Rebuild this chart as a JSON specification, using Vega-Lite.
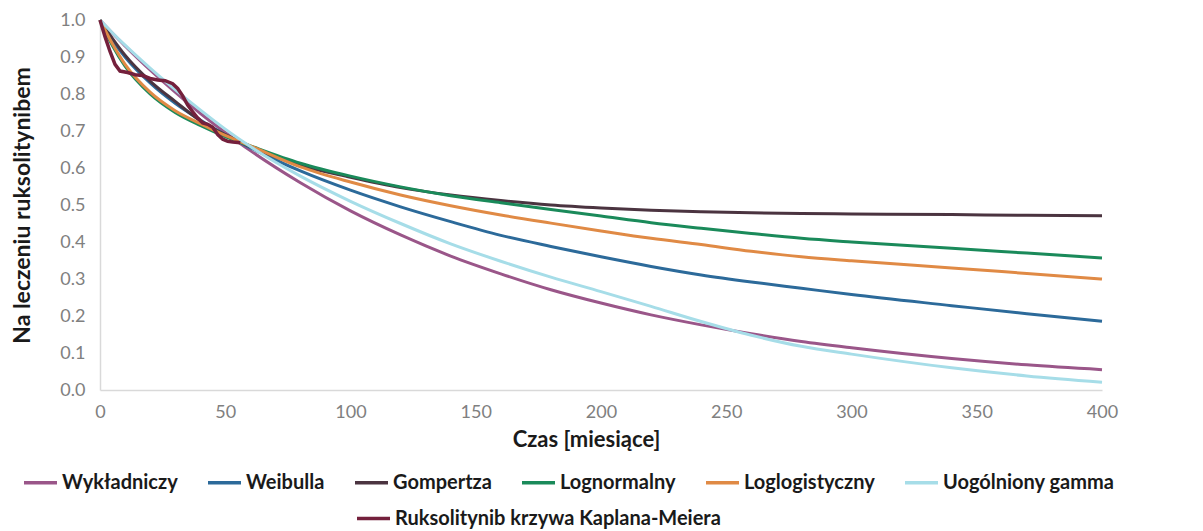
{
  "$schema": "https://vega.github.io/schema/vega-lite/v6.json",
  "width": 1002,
  "height": 370,
  "autosize": {"type": "none"},
  "padding": {"left": 100, "top": 20, "right": 101, "bottom": 141},
  "background": "white",
  "config": {
    "view": {"stroke": null},
    "font": "Lato",
    "axis": {
      "grid": false,
      "ticks": false,
      "labelFlush": false,
      "labelOverlap": false,
      "domainColor": "#d9d9d9",
      "domainWidth": 1.5,
      "labelColor": "#808080",
      "labelFontSize": 18,
      "labelFont": "Lato",
      "titleFont": "Lato",
      "titleFontSize": 22,
      "titleFontWeight": "bold",
      "titleColor": "#1a1a1a"
    },
    "legend": {
      "labelFont": "Lato",
      "labelFontSize": 20,
      "labelFontWeight": "bold",
      "labelColor": "#1a1a1a",
      "symbolType": "stroke",
      "symbolSize": 1089,
      "symbolStrokeWidth": 3.5,
      "labelOffset": 3,
      "columnPadding": 23,
      "labelLimit": 600
    }
  },
  "datasets": {
    "models": [
      {"model": "Wykładniczy", "t": 0, "s": 1.0},
      {"model": "Wykładniczy", "t": 5, "s": 0.964},
      {"model": "Wykładniczy", "t": 10, "s": 0.930},
      {"model": "Wykładniczy", "t": 20, "s": 0.865},
      {"model": "Wykładniczy", "t": 30, "s": 0.805},
      {"model": "Wykładniczy", "t": 40, "s": 0.748},
      {"model": "Wykładniczy", "t": 50, "s": 0.696},
      {"model": "Wykładniczy", "t": 60, "s": 0.647},
      {"model": "Wykładniczy", "t": 80, "s": 0.560},
      {"model": "Wykładniczy", "t": 100, "s": 0.484},
      {"model": "Wykładniczy", "t": 120, "s": 0.419},
      {"model": "Wykładniczy", "t": 140, "s": 0.362},
      {"model": "Wykładniczy", "t": 160, "s": 0.314},
      {"model": "Wykładniczy", "t": 180, "s": 0.271},
      {"model": "Wykładniczy", "t": 200, "s": 0.235},
      {"model": "Wykładniczy", "t": 220, "s": 0.203},
      {"model": "Wykładniczy", "t": 240, "s": 0.176},
      {"model": "Wykładniczy", "t": 260, "s": 0.152},
      {"model": "Wykładniczy", "t": 280, "s": 0.131},
      {"model": "Wykładniczy", "t": 300, "s": 0.114},
      {"model": "Wykładniczy", "t": 340, "s": 0.085},
      {"model": "Wykładniczy", "t": 370, "s": 0.068},
      {"model": "Wykładniczy", "t": 400, "s": 0.055},

      {"model": "Weibulla", "t": 0, "s": 1.0},
      {"model": "Weibulla", "t": 5, "s": 0.945},
      {"model": "Weibulla", "t": 10, "s": 0.900},
      {"model": "Weibulla", "t": 20, "s": 0.830},
      {"model": "Weibulla", "t": 30, "s": 0.775},
      {"model": "Weibulla", "t": 40, "s": 0.730},
      {"model": "Weibulla", "t": 50, "s": 0.690},
      {"model": "Weibulla", "t": 60, "s": 0.655},
      {"model": "Weibulla", "t": 80, "s": 0.592},
      {"model": "Weibulla", "t": 100, "s": 0.540},
      {"model": "Weibulla", "t": 120, "s": 0.495},
      {"model": "Weibulla", "t": 140, "s": 0.455},
      {"model": "Weibulla", "t": 160, "s": 0.418},
      {"model": "Weibulla", "t": 180, "s": 0.388},
      {"model": "Weibulla", "t": 200, "s": 0.360},
      {"model": "Weibulla", "t": 220, "s": 0.334},
      {"model": "Weibulla", "t": 240, "s": 0.311},
      {"model": "Weibulla", "t": 260, "s": 0.292},
      {"model": "Weibulla", "t": 280, "s": 0.275},
      {"model": "Weibulla", "t": 300, "s": 0.258},
      {"model": "Weibulla", "t": 340, "s": 0.228},
      {"model": "Weibulla", "t": 370, "s": 0.206},
      {"model": "Weibulla", "t": 400, "s": 0.186},

      {"model": "Gompertza", "t": 0, "s": 1.0},
      {"model": "Gompertza", "t": 5, "s": 0.950},
      {"model": "Gompertza", "t": 10, "s": 0.905},
      {"model": "Gompertza", "t": 20, "s": 0.835},
      {"model": "Gompertza", "t": 30, "s": 0.780},
      {"model": "Gompertza", "t": 40, "s": 0.728},
      {"model": "Gompertza", "t": 50, "s": 0.690},
      {"model": "Gompertza", "t": 60, "s": 0.658},
      {"model": "Gompertza", "t": 80, "s": 0.607},
      {"model": "Gompertza", "t": 100, "s": 0.575},
      {"model": "Gompertza", "t": 120, "s": 0.547},
      {"model": "Gompertza", "t": 140, "s": 0.527},
      {"model": "Gompertza", "t": 160, "s": 0.512},
      {"model": "Gompertza", "t": 180, "s": 0.500},
      {"model": "Gompertza", "t": 200, "s": 0.492},
      {"model": "Gompertza", "t": 220, "s": 0.486},
      {"model": "Gompertza", "t": 240, "s": 0.482},
      {"model": "Gompertza", "t": 260, "s": 0.479},
      {"model": "Gompertza", "t": 280, "s": 0.477},
      {"model": "Gompertza", "t": 300, "s": 0.476},
      {"model": "Gompertza", "t": 340, "s": 0.474},
      {"model": "Gompertza", "t": 370, "s": 0.472},
      {"model": "Gompertza", "t": 400, "s": 0.471},

      {"model": "Lognormalny", "t": 0, "s": 1.0},
      {"model": "Lognormalny", "t": 5, "s": 0.930},
      {"model": "Lognormalny", "t": 10, "s": 0.875},
      {"model": "Lognormalny", "t": 20, "s": 0.800},
      {"model": "Lognormalny", "t": 30, "s": 0.750},
      {"model": "Lognormalny", "t": 40, "s": 0.715},
      {"model": "Lognormalny", "t": 50, "s": 0.685},
      {"model": "Lognormalny", "t": 60, "s": 0.660},
      {"model": "Lognormalny", "t": 80, "s": 0.613},
      {"model": "Lognormalny", "t": 100, "s": 0.578},
      {"model": "Lognormalny", "t": 120, "s": 0.549},
      {"model": "Lognormalny", "t": 140, "s": 0.525},
      {"model": "Lognormalny", "t": 160, "s": 0.506},
      {"model": "Lognormalny", "t": 180, "s": 0.488},
      {"model": "Lognormalny", "t": 200, "s": 0.470},
      {"model": "Lognormalny", "t": 220, "s": 0.452},
      {"model": "Lognormalny", "t": 240, "s": 0.437},
      {"model": "Lognormalny", "t": 260, "s": 0.423},
      {"model": "Lognormalny", "t": 280, "s": 0.410},
      {"model": "Lognormalny", "t": 300, "s": 0.400},
      {"model": "Lognormalny", "t": 340, "s": 0.383},
      {"model": "Lognormalny", "t": 370, "s": 0.370},
      {"model": "Lognormalny", "t": 400, "s": 0.357},

      {"model": "Loglogistyczny", "t": 0, "s": 1.0},
      {"model": "Loglogistyczny", "t": 5, "s": 0.935},
      {"model": "Loglogistyczny", "t": 10, "s": 0.880},
      {"model": "Loglogistyczny", "t": 20, "s": 0.805},
      {"model": "Loglogistyczny", "t": 30, "s": 0.755},
      {"model": "Loglogistyczny", "t": 40, "s": 0.720},
      {"model": "Loglogistyczny", "t": 50, "s": 0.688},
      {"model": "Loglogistyczny", "t": 60, "s": 0.660},
      {"model": "Loglogistyczny", "t": 80, "s": 0.603},
      {"model": "Loglogistyczny", "t": 100, "s": 0.562},
      {"model": "Loglogistyczny", "t": 120, "s": 0.527},
      {"model": "Loglogistyczny", "t": 140, "s": 0.498},
      {"model": "Loglogistyczny", "t": 160, "s": 0.473},
      {"model": "Loglogistyczny", "t": 180, "s": 0.451},
      {"model": "Loglogistyczny", "t": 200, "s": 0.430},
      {"model": "Loglogistyczny", "t": 220, "s": 0.410},
      {"model": "Loglogistyczny", "t": 240, "s": 0.393},
      {"model": "Loglogistyczny", "t": 260, "s": 0.375},
      {"model": "Loglogistyczny", "t": 280, "s": 0.360},
      {"model": "Loglogistyczny", "t": 300, "s": 0.349},
      {"model": "Loglogistyczny", "t": 340, "s": 0.330},
      {"model": "Loglogistyczny", "t": 370, "s": 0.315},
      {"model": "Loglogistyczny", "t": 400, "s": 0.300},

      {"model": "Uogólniony gamma", "t": 0, "s": 1.0},
      {"model": "Uogólniony gamma", "t": 5, "s": 0.965},
      {"model": "Uogólniony gamma", "t": 10, "s": 0.932},
      {"model": "Uogólniony gamma", "t": 20, "s": 0.870},
      {"model": "Uogólniony gamma", "t": 30, "s": 0.812},
      {"model": "Uogólniony gamma", "t": 40, "s": 0.757},
      {"model": "Uogólniony gamma", "t": 50, "s": 0.705},
      {"model": "Uogólniony gamma", "t": 60, "s": 0.658},
      {"model": "Uogólniony gamma", "t": 80, "s": 0.578},
      {"model": "Uogólniony gamma", "t": 100, "s": 0.510},
      {"model": "Uogólniony gamma", "t": 120, "s": 0.450},
      {"model": "Uogólniony gamma", "t": 140, "s": 0.395},
      {"model": "Uogólniony gamma", "t": 160, "s": 0.348},
      {"model": "Uogólniony gamma", "t": 180, "s": 0.305},
      {"model": "Uogólniony gamma", "t": 200, "s": 0.266},
      {"model": "Uogólniony gamma", "t": 220, "s": 0.226},
      {"model": "Uogólniony gamma", "t": 240, "s": 0.185},
      {"model": "Uogólniony gamma", "t": 260, "s": 0.148},
      {"model": "Uogólniony gamma", "t": 280, "s": 0.118},
      {"model": "Uogólniony gamma", "t": 300, "s": 0.097},
      {"model": "Uogólniony gamma", "t": 340, "s": 0.060},
      {"model": "Uogólniony gamma", "t": 370, "s": 0.038},
      {"model": "Uogólniony gamma", "t": 400, "s": 0.021}
    ],
    "km": [
      {"model": "Ruksolitynib krzywa Kaplana-Meiera", "t": 0, "s": 1.0},
      {"model": "Ruksolitynib krzywa Kaplana-Meiera", "t": 2, "s": 0.955},
      {"model": "Ruksolitynib krzywa Kaplana-Meiera", "t": 4, "s": 0.915},
      {"model": "Ruksolitynib krzywa Kaplana-Meiera", "t": 6, "s": 0.88},
      {"model": "Ruksolitynib krzywa Kaplana-Meiera", "t": 8, "s": 0.862},
      {"model": "Ruksolitynib krzywa Kaplana-Meiera", "t": 11, "s": 0.858},
      {"model": "Ruksolitynib krzywa Kaplana-Meiera", "t": 14, "s": 0.852},
      {"model": "Ruksolitynib krzywa Kaplana-Meiera", "t": 17, "s": 0.85},
      {"model": "Ruksolitynib krzywa Kaplana-Meiera", "t": 20, "s": 0.842},
      {"model": "Ruksolitynib krzywa Kaplana-Meiera", "t": 23, "s": 0.838},
      {"model": "Ruksolitynib krzywa Kaplana-Meiera", "t": 26, "s": 0.836},
      {"model": "Ruksolitynib krzywa Kaplana-Meiera", "t": 29, "s": 0.828},
      {"model": "Ruksolitynib krzywa Kaplana-Meiera", "t": 31, "s": 0.815},
      {"model": "Ruksolitynib krzywa Kaplana-Meiera", "t": 33, "s": 0.795},
      {"model": "Ruksolitynib krzywa Kaplana-Meiera", "t": 35, "s": 0.77},
      {"model": "Ruksolitynib krzywa Kaplana-Meiera", "t": 37, "s": 0.752},
      {"model": "Ruksolitynib krzywa Kaplana-Meiera", "t": 39, "s": 0.735},
      {"model": "Ruksolitynib krzywa Kaplana-Meiera", "t": 41, "s": 0.722},
      {"model": "Ruksolitynib krzywa Kaplana-Meiera", "t": 43, "s": 0.718},
      {"model": "Ruksolitynib krzywa Kaplana-Meiera", "t": 45, "s": 0.71},
      {"model": "Ruksolitynib krzywa Kaplana-Meiera", "t": 47, "s": 0.69},
      {"model": "Ruksolitynib krzywa Kaplana-Meiera", "t": 49, "s": 0.678},
      {"model": "Ruksolitynib krzywa Kaplana-Meiera", "t": 51, "s": 0.672},
      {"model": "Ruksolitynib krzywa Kaplana-Meiera", "t": 53, "s": 0.67},
      {"model": "Ruksolitynib krzywa Kaplana-Meiera", "t": 56, "s": 0.668}
    ]
  },
  "encoding": {
    "x": {
      "field": "t",
      "type": "quantitative",
      "scale": {"domain": [0, 400], "nice": false},
      "axis": {
        "values": [0, 50, 100, 150, 200, 250, 300, 350, 400],
        "format": "d",
        "labelOverlap": false,
        "labelPadding": 13,
        "titlePadding": 8,
        "titleFontSize": 22,
        "titleX": 486,
        "title": "Czas [miesiące]"
      }
    },
    "y": {
      "field": "s",
      "type": "quantitative",
      "scale": {"domain": [0, 1], "nice": false},
      "axis": {
        "values": [0, 0.1, 0.2, 0.3, 0.4, 0.5, 0.6, 0.7, 0.8, 0.9, 1.0],
        "tickCount": 11,
        "format": ".1f",
        "labelOverlap": false,
        "labelSeparation": 0,
        "labelPadding": 15,
        "title": "Na leczeniu ruksolitynibem",
        "titleFontSize": 23,
        "titleX": -78,
        "titleY": 185,
        "titleBaseline": "middle",
        "titleAlign": "center"
      }
    }
  },
  "layer": [
    {
      "data": {"name": "models"},
      "mark": {"type": "line", "strokeWidth": 3, "interpolate": "monotone"},
      "encoding": {
        "color": {
          "field": "model",
          "type": "nominal",
          "sort": null,
          "scale": {
            "domain": ["Wykładniczy", "Weibulla", "Gompertza", "Lognormalny", "Loglogistyczny", "Uogólniony gamma"],
            "range": ["#9A5689", "#2C6A9A", "#4B3440", "#1A8A5A", "#E08A45", "#A6DDE8"]
          },
          "legend": {
            "title": null,
            "orient": "none",
            "direction": "horizontal",
            "columns": 6,
            "legendX": -78,
            "legendY": 444
          }
        }
      }
    },
    {
      "data": {"name": "km"},
      "mark": {"type": "line", "strokeWidth": 3.5},
      "encoding": {
        "color": {
          "field": "model",
          "type": "nominal",
          "scale": {"domain": ["Ruksolitynib krzywa Kaplana-Meiera"], "range": ["#74203C"]},
          "legend": {
            "title": null,
            "orient": "none",
            "direction": "horizontal",
            "legendX": 255,
            "legendY": 480
          }
        }
      }
    }
  ],
  "resolve": {"scale": {"color": "independent"}}
}
